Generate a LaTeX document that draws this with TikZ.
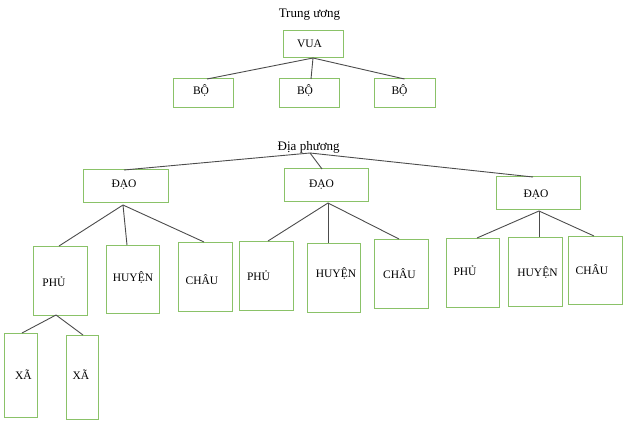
\documentclass[tikz,border=0pt]{standalone}
\usepackage{fontspec}
\setmainfont{Liberation Serif}
\definecolor{boxgreen}{RGB}{138,194,104}
\begin{document}
\begin{tikzpicture}[x=1pt, y=-1pt,
  inner sep=0pt, outer sep=0pt,%
  box/.style={draw=boxgreen, line width=1pt, fill=white},
  lbl/.style={anchor=base, font=\fontsize{11.5}{13}\selectfont},
  head/.style={anchor=base, font=\fontsize{13}{15}\selectfont},
  link/.style={draw=black!70, line width=0.9pt}]

\useasboundingbox (0,0) rectangle (624,425);

% trung uong
\node[head] (tw) at (309.5,17.5) {Trung ương};

\node[box, minimum width=60, minimum height=27] (vua) at (313,44.5) {};
\node[box, minimum width=60, minimum height=29] (bo1) at (203,93.5) {};
\node[box, minimum width=60, minimum height=29] (bo2) at (309,93.5) {};
\node[box, minimum width=61, minimum height=29] (bo3) at (404.5,93.5) {};

\draw[link] (vua.south) -- ([xshift=4]bo1.north);
\draw[link] (vua.south) -- ([xshift=2]bo2.north);
\draw[link] (vua.south) -- (bo3.north);

\node[lbl] (vuat) at (309.5,48) {VUA};
\node[lbl] (bo1t) at (201,95) {BỘ};
\node[lbl] (bo2t) at (305,95) {BỘ};
\node[lbl] (bo3t) at (399.5,95) {BỘ};

% dia phuong
\node[head] (dp) at (308.7,150) {Địa phương};
\coordinate (dphub) at (310,153);

\node[box, minimum width=85, minimum height=32] (dao1) at (125.5,186) {};
\node[box, minimum width=84, minimum height=32] (dao2) at (326,185) {};
\node[box, minimum width=84, minimum height=32] (dao3) at (538,193) {};

\draw[link] (dphub) -- ([xshift=-1.5]dao1.north);
\draw[link] (dphub) -- ([xshift=-4]dao2.north);
\draw[link] (dphub) -- ([xshift=-5]dao3.north);

\coordinate (dao1hub) at (123,205);
\coordinate (dao2hub) at (328,203);
\coordinate (dao3hub) at (539,211);
\coordinate (phu1hub) at (56,315);

\node[box, minimum width=54, minimum height=69] (phu1) at (60,280.5) {};
\node[box, minimum width=53, minimum height=68] (huyen1) at (132.5,279) {};
\node[box, minimum width=54, minimum height=69] (chau1) at (205,276.5) {};

\node[box, minimum width=54, minimum height=69] (phu2) at (266,275.5) {};
\node[box, minimum width=53, minimum height=69] (huyen2) at (333.5,277.5) {};
\node[box, minimum width=54, minimum height=69] (chau2) at (401,273.5) {};

\node[box, minimum width=53, minimum height=69] (phu3) at (472.5,272.5) {};
\node[box, minimum width=54, minimum height=69] (huyen3) at (535,271.5) {};
\node[box, minimum width=54, minimum height=68] (chau3) at (595,270) {};

\node[box, minimum width=33, minimum height=84] (xa1) at (20.5,375) {};
\node[box, minimum width=32, minimum height=84] (xa2) at (82,377) {};

\draw[link] (dao1hub) -- ([xshift=-1]phu1.north);
\draw[link] (dao1hub) -- ([xshift=-5.5]huyen1.north);
\draw[link] (dao1hub) -- ([xshift=-1]chau1.north);

\draw[link] (dao2hub) -- ([xshift=2]phu2.north);
\draw[link] (dao2hub) -- ([xshift=-5.5]huyen2.north);
\draw[link] (dao2hub) -- ([xshift=-2]chau2.north);

\draw[link] (dao3hub) -- ([xshift=4.5]phu3.north);
\draw[link] (dao3hub) -- ([xshift=4]huyen3.north);
\draw[link] (dao3hub) -- ([xshift=-1]chau3.north);

\draw[link] (phu1hub) -- ([xshift=1.5]xa1.north);
\draw[link] (phu1hub) -- ([xshift=1]xa2.north);

\node[lbl] (dao1t) at (124,188) {ĐẠO};
\node[lbl] (dao2t) at (321.5,187) {ĐẠO};
\node[lbl] (dao3t) at (536,197) {ĐẠO};

\node[lbl] (phu1t) at (54,286) {PHỦ};
\node[lbl] (huyen1t) at (133,281) {HUYỆN};
\node[lbl] (chau1t) at (202,284) {CHÂU};

\node[lbl] (phu2t) at (258.5,280) {PHỦ};
\node[lbl] (huyen2t) at (336,277) {HUYỆN};
\node[lbl] (chau2t) at (399.5,278) {CHÂU};

\node[lbl] (phu3t) at (465,275) {PHỦ};
\node[lbl] (huyen3t) at (537.5,276) {HUYỆN};
\node[lbl] (chau3t) at (592,274) {CHÂU};

\node[lbl] (xa1t) at (23.5,379) {XÃ};
\node[lbl] (xa2t) at (81,379) {XÃ};

\end{tikzpicture}
\end{document}
